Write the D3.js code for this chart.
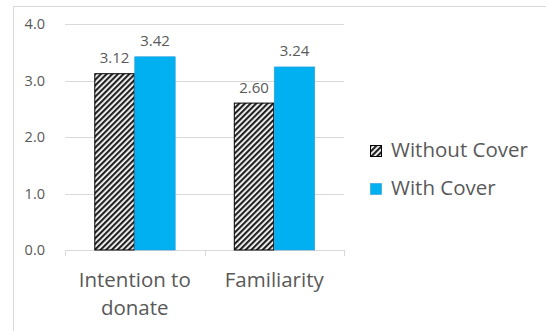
<!DOCTYPE html>
<html>
<head>
<meta charset="utf-8">
<script src="https://cdn.jsdelivr.net/npm/d3@7"></script>
<style>
  html, body { margin: 0; padding: 0; background: #fff; }
  svg { display: block; }
  text { font-family: "Open Sans", "Liberation Sans", sans-serif; fill: #595959; }
</style>
</head>
<body>
<svg id="chart" width="546" height="331"></svg>
<script>
// Mean ratings by measure, with and without a cover
const categories = ["Intention to donate", "Familiarity"];
const categoryLines = [["Intention to", "donate"], ["Familiarity"]];
const seriesNames = ["Without Cover", "With Cover"];
const withoutCover = [3.12, 2.60];
const withCover = [3.42, 3.24];
const yTicks = [0, 1, 2, 3, 4];

const svg = d3.select("#chart");

// chart frame
svg.append("rect")
  .attr("x", 13.5).attr("y", 6.5)
  .attr("width", 600).attr("height", 400)
  .attr("fill", "none").attr("stroke", "#d9d9d9");

const defs = svg.append("defs");
const pat = defs.append("pattern")
  .attr("id", "hatch")
  .attr("patternUnits", "userSpaceOnUse")
  .attr("width", 4).attr("height", 4)
  .attr("patternTransform", "rotate(45)");
pat.append("rect").attr("width", 4).attr("height", 4).attr("fill", "#fff");
pat.append("rect").attr("width", 2.2).attr("height", 4).attr("fill", "#222");

const plot = { left: 65, right: 344, top: 24, bottom: 250 };

const x0 = d3.scaleBand()
  .domain(categories)
  .range([plot.left, plot.right])
  .paddingInner(0.42)
  .paddingOuter(0.21);
const x1 = d3.scaleBand()
  .domain(seriesNames)
  .range([0, x0.bandwidth()]);
const y = d3.scaleLinear().domain([0, 4]).range([plot.bottom, plot.top]);

// gridlines
svg.append("g")
  .selectAll("line")
  .data(yTicks.slice(1))
  .join("line")
  .attr("x1", plot.left).attr("x2", plot.right)
  .attr("y1", d => Math.round(y(d)) + 0.5).attr("y2", d => Math.round(y(d)) + 0.5)
  .attr("stroke", "#d9d9d9");

// y axis labels
const yAxis = d3.axisLeft(y).tickValues(yTicks).tickFormat(d3.format(".1f")).tickSize(0).tickPadding(0);
svg.append("g")
  .attr("transform", "translate(45,0)")
  .call(yAxis)
  .call(g => g.select(".domain").remove())
  .call(g => g.selectAll("text").attr("font-size", 14.5).attr("fill", "#595959")
    .style("font-family", "'Open Sans', sans-serif"));

// category axis with boundary ticks
const xAxis = svg.append("g");
xAxis.append("line")
  .attr("x1", plot.left).attr("x2", plot.right)
  .attr("y1", plot.bottom + 0.5).attr("y2", plot.bottom + 0.5)
  .attr("stroke", "#d9d9d9");
const step = (plot.right - plot.left) / categories.length;
xAxis.selectAll("line.tick")
  .data(d3.range(categories.length + 1))
  .join("line")
  .attr("class", "tick")
  .attr("x1", d => Math.round(plot.left + d * step) + 0.5)
  .attr("x2", d => Math.round(plot.left + d * step) + 0.5)
  .attr("y1", plot.bottom).attr("y2", plot.bottom + 6)
  .attr("stroke", "#d9d9d9");

xAxis.selectAll("text.cat")
  .data(categories)
  .join("text")
  .attr("class", "cat")
  .attr("text-anchor", "middle")
  .attr("font-size", 20.5)
  .attr("x", d => x0(d) + x0.bandwidth() / 2)
  .attr("y", 287)
  .each(function(d, i) {
    d3.select(this).selectAll("tspan")
      .data(categoryLines[i])
      .join("tspan")
      .attr("x", x0(d) + x0.bandwidth() / 2)
      .attr("dy", (l, j) => j === 0 ? 0 : 28)
      .text(l => l);
  });

// bars
const rows = categories.map((c, i) => ({ cat: c, values: [withoutCover[i], withCover[i]] }));
const groups = svg.append("g").selectAll("g")
  .data(rows)
  .join("g")
  .attr("transform", d => `translate(${x0(d.cat)},0)`);

groups.selectAll("rect")
  .data(d => d.values.map((v, k) => ({ name: seriesNames[k], v })))
  .join("rect")
  .attr("x", d => x1(d.name) + (d.name === seriesNames[0] ? 0.5 : 0))
  .attr("y", d => y(d.v))
  .attr("width", d => x1.bandwidth() - (d.name === seriesNames[0] ? 1 : 0))
  .attr("height", d => y(0) - y(d.v))
  .attr("fill", d => d.name === seriesNames[0] ? "url(#hatch)" : "#00b0f0")
  .attr("stroke", d => d.name === seriesNames[0] ? "#000" : "#2e9bd6")
  .attr("stroke-width", d => d.name === seriesNames[0] ? 1 : 0.6);

// value labels
groups.selectAll("text.val")
  .data(d => d.values.map((v, k) => ({ name: seriesNames[k], v })))
  .join("text")
  .attr("class", "val")
  .attr("text-anchor", "middle")
  .attr("font-size", 15)
  .attr("x", d => x1(d.name) + x1.bandwidth() / 2)
  .attr("y", d => y(d.v) - 10.5)
  .text(d => d3.format(".2f")(d.v));

// legend
const legend = svg.append("g").selectAll("g")
  .data(seriesNames)
  .join("g")
  .attr("transform", (d, i) => `translate(370,${145 + i * 38})`);
legend.append("rect")
  .attr("x", 0.5).attr("y", 0.5)
  .attr("width", 11).attr("height", 11)
  .attr("fill", (d, i) => i === 0 ? "url(#hatch)" : "#00b0f0")
  .attr("stroke", (d, i) => i === 0 ? "#000" : "#2e9bd6")
  .attr("stroke-width", (d, i) => i === 0 ? 1 : 0.6);
legend.append("text")
  .attr("x", 21).attr("y", 12)
  .attr("font-size", 20.5)
  .text(d => d);
</script>
</body>
</html>
